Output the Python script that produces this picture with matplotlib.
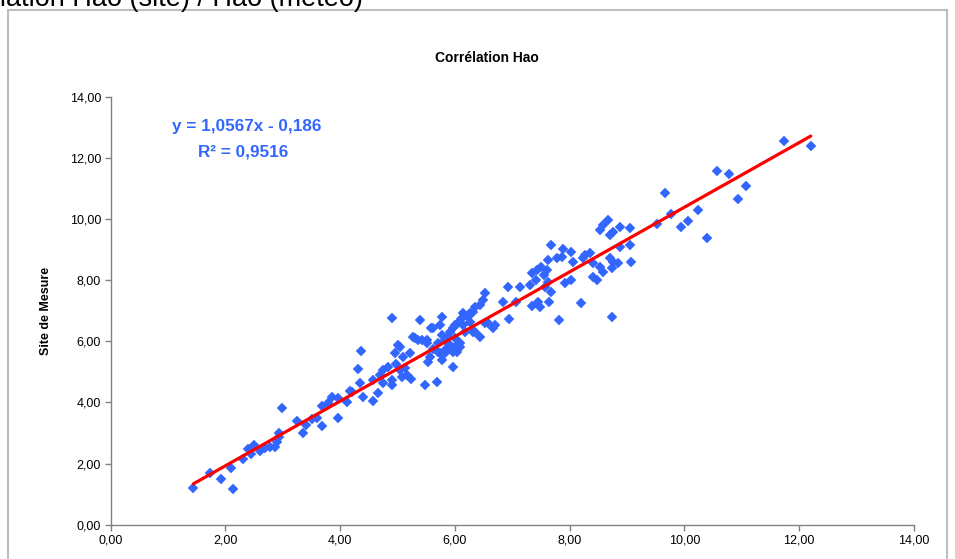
import matplotlib
matplotlib.use("Agg")
import matplotlib.pyplot as plt
from matplotlib.patches import Rectangle
from matplotlib.ticker import FuncFormatter

plt.rcParams['font.family'] = ['Liberation Sans', 'DejaVu Sans']

# Hao (météo) values  -> x
meteo = [1.44, 1.73, 1.93, 2.14, 2.10, 2.31, 2.40, 2.50, 2.44, 2.60,
         2.69, 2.78, 2.86, 2.89, 2.94, 2.93, 2.99, 3.24, 3.36, 3.41,
         3.50, 3.59, 3.69, 3.69, 3.85, 3.79, 3.97, 3.97, 4.11, 4.20,
         4.34, 4.40, 4.57, 4.66, 4.75, 4.90, 4.17, 4.31, 4.36, 4.57,
         4.69, 4.75, 4.84, 4.90, 4.98, 4.95, 5.01, 5.07, 5.13, 5.21,
         5.24, 5.27, 5.36, 5.48, 5.51, 5.56, 5.59, 5.68, 5.71, 5.77,
         5.77, 5.82, 5.91, 5.97, 6.00, 6.06, 6.14, 6.26, 6.03, 6.09,
         6.35, 5.39, 6.14, 6.23, 6.32, 6.35, 6.49, 6.52, 6.43, 6.58,
         6.70, 6.66, 6.83, 6.93, 6.94, 7.07, 7.14, 7.30, 7.35, 7.34,
         7.43, 7.50, 7.55, 7.60, 7.45, 7.48, 7.57, 7.64, 7.68, 7.82,
         7.91, 8.03, 8.19, 7.68, 7.89, 7.86, 8.03, 8.06, 7.77, 7.62,
         7.42, 7.62, 8.73, 8.26, 8.35, 8.41, 8.52, 8.58, 8.41, 8.47,
         8.70, 8.76, 8.84, 8.73, 8.52, 8.58, 8.67, 8.76, 8.87, 9.05,
         8.70, 8.87, 9.05, 9.06, 8.23, 9.66, 9.52, 9.77, 9.94, 10.06,
         10.24, 10.39, 10.56, 10.78, 10.93, 11.07, 11.73, 12.20, 6.43, 6.26,
         6.11, 6.00, 5.97, 5.91, 5.88, 5.82, 6.52, 6.32, 6.17, 6.09,
         6.00, 5.97, 5.77, 5.74, 5.62, 5.04, 5.10, 5.30, 5.42, 5.51,
         5.62, 5.74, 5.53, 5.71, 5.85, 5.04, 5.16, 4.90]

# Site de Mesure values -> y
site = [1.21, 1.68, 1.49, 1.17, 1.84, 2.15, 2.46, 2.60, 2.30, 2.42,
        2.50, 2.55, 2.55, 2.71, 2.88, 3.01, 3.80, 3.39, 2.99, 3.26,
        3.44, 3.48, 3.24, 3.88, 4.18, 3.98, 3.48, 4.13, 4.02, 4.35,
        4.62, 4.18, 4.05, 4.29, 4.62, 4.57, 4.38, 5.09, 5.69, 4.73,
        4.89, 5.06, 5.16, 4.73, 5.27, 5.60, 5.87, 4.84, 5.11, 5.60,
        4.78, 6.14, 6.04, 4.57, 6.04, 5.49, 6.42, 4.67, 5.65, 5.38,
        6.20, 5.60, 5.87, 5.16, 6.09, 6.58, 6.53, 6.63, 5.65, 5.82,
        6.31, 6.69, 6.91, 6.80, 6.96, 7.12, 7.34, 7.56, 6.14, 6.58,
        6.53, 6.43, 7.29, 7.78, 6.71, 7.29, 7.78, 7.84, 7.16, 8.23,
        8.32, 8.42, 8.16, 8.32, 7.29, 7.12, 7.78, 7.29, 7.61, 6.69,
        7.89, 8.00, 7.25, 9.14, 9.03, 8.76, 8.92, 8.59, 8.71, 8.65,
        8.00, 7.94, 6.80, 8.82, 8.87, 8.54, 8.43, 8.27, 8.10, 8.00,
        8.71, 8.60, 8.54, 8.38, 9.62, 9.79, 9.95, 9.58, 9.74, 9.69,
        9.47, 9.08, 9.14, 8.59, 8.71, 10.85, 9.82, 10.15, 9.72, 9.92,
        10.28, 9.38, 11.56, 11.46, 10.64, 11.09, 12.54, 12.39, 7.18, 6.91,
        6.74, 6.53, 6.42, 6.31, 6.14, 6.04, 6.58, 6.31, 6.31, 5.93,
        5.82, 5.65, 6.80, 6.53, 6.42, 5.82, 5.49, 6.09, 6.04, 5.93,
        5.76, 5.60, 5.33, 5.93, 5.76, 5.06, 4.89, 6.75]

slope = 1.0567
intercept = -0.186
r2 = 0.9516

x_ticks = [0, 2, 4, 6, 8, 10, 12, 14]
y_ticks = [0, 2, 4, 6, 8, 10, 12, 14]

blue = '#3366FF'

fig = plt.figure(figsize=(9.55, 5.59), dpi=100)
fig.patch.set_facecolor('white')

# outer chart frame
fig.patches.append(Rectangle((8 / 955, -0.05), (947 - 8) / 955, 1 - 10 / 559 + 0.05,
                             transform=fig.transFigure, fill=False,
                             edgecolor='#BDBDBD', linewidth=1.5))

ax = fig.add_axes([110.7 / 955, 34.3 / 559, (914 - 110.7) / 955, (524.7 - 96.5) / 559])

ax.plot(meteo, site, linestyle='none', marker='D', markersize=4.9,
        markerfacecolor=blue, markeredgecolor=blue, markeredgewidth=0.3, zorder=2)

xmin, xmax = min(meteo), max(meteo)
ax.plot([xmin, xmax], [slope * xmin + intercept, slope * xmax + intercept],
        color='#FF0000', linewidth=2.3, solid_capstyle='round', zorder=3)

ax.set_xlim(0, 14)
ax.set_ylim(0, 14)
ax.set_xticks(x_ticks)
ax.set_yticks(y_ticks)
fmt = FuncFormatter(lambda v, p: f"{v:.2f}".replace('.', ','))
ax.xaxis.set_major_formatter(fmt)
ax.yaxis.set_major_formatter(fmt)
ax.tick_params(axis='both', direction='out', length=4, width=1, color='#808080',
               labelsize=9, labelcolor='black', pad=3)

for s in ['top', 'right']:
    ax.spines[s].set_visible(False)
for s in ['left', 'bottom']:
    ax.spines[s].set_color('#808080')
    ax.spines[s].set_linewidth(1)

ax.set_ylabel('Site de Mesure', fontsize=9, fontweight='bold')
ax.yaxis.set_label_coords(-0.073, 0.5)

fig.text(487 / 955, 1 - 58 / 559, 'Corrélation Hao', ha='center', va='center',
         fontsize=10, fontweight='bold')

eq = f"y = {slope:.4f}x - {abs(intercept):.3f}".replace('.', ',')
fig.text(247 / 955, 1 - 127 / 559, eq, ha='center', va='center',
         fontsize=12.3, fontweight='bold', color=blue)
fig.text(243 / 955, 1 - 152 / 559, f"R² = {r2:.4f}".replace('.', ','),
         ha='center', va='center', fontsize=12.3, fontweight='bold', color=blue)

fig.text(363 / 955, 1 - 6 / 559, 'Corrélation Hao (site) / Hao (météo)',
         ha='right', va='baseline', fontsize=19.5)

fig.savefig('out.png', dpi=100)
